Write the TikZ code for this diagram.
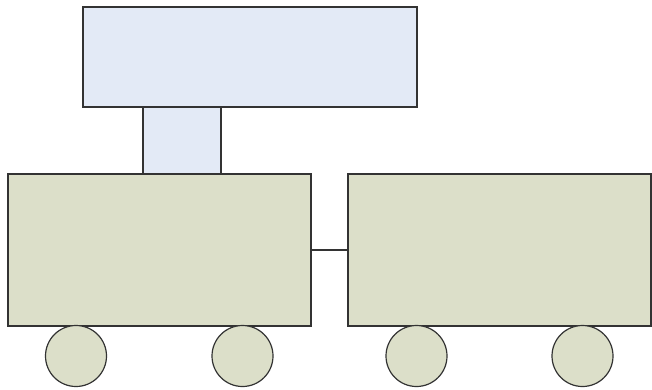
\documentclass[tikz,border=0pt]{standalone}
\usepackage{tikz}
\definecolor{cabfill}{RGB}{227,234,246}
\definecolor{carfill}{RGB}{220,223,201}
\begin{document}
\begin{tikzpicture}[x=1pt,y=-1pt,line width=1.2pt, every node/.style={draw=black!80,inner sep=0pt,outer sep=0pt}]
        \useasboundingbox (0,0) rectangle (652,390);
        \node[fill=cabfill,minimum width=78pt,minimum height=67pt] (neck) at (182,140.5) {};
        \node[fill=cabfill,minimum width=334pt,minimum height=100pt] (cab) at (250,57) {};
        \node[fill=carfill,minimum width=303pt,minimum height=152pt] (lcar) at (159.5,250) {};
        \node[fill=carfill,minimum width=303pt,minimum height=152pt] (rcar) at (499.5,250) {};
        \foreach \x/\n in {76/a,242.5/b,416.5/c,582.5/d}
            \node[circle,fill=carfill,minimum size=61pt] (wheel\n) at (\x,356) {};
        \draw[black!80] (lcar.east) -- (rcar.west);
    \end{tikzpicture}
\end{document}
